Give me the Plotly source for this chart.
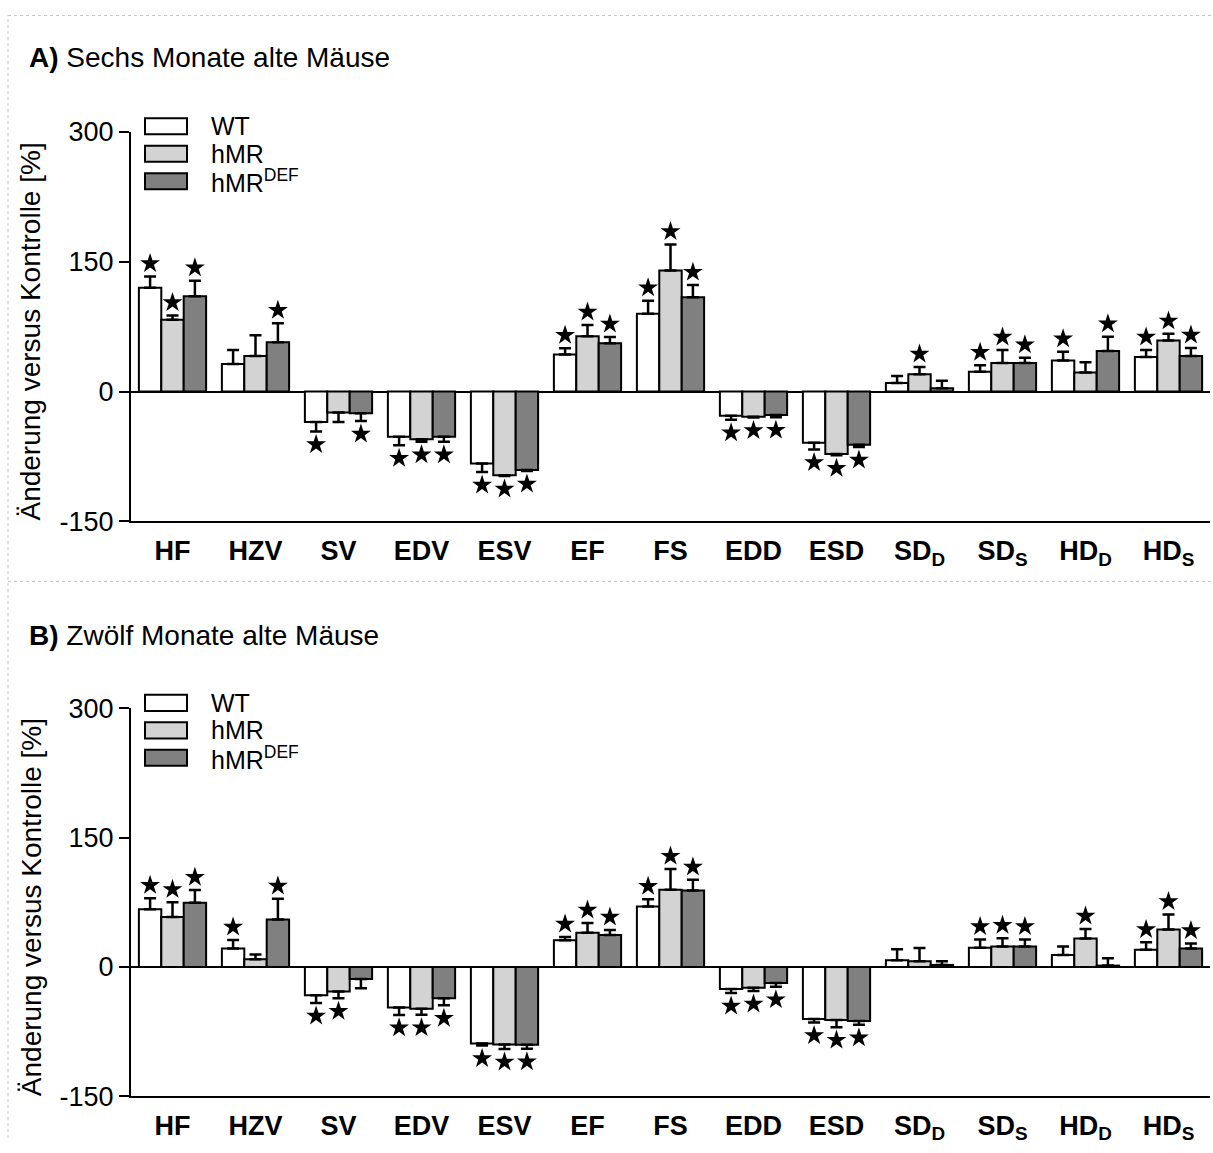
import plotly.graph_objects as go

# ---- data -------------------------------------------------------------
categories = ["HF", "HZV", "SV", "EDV", "ESV", "EF", "FS", "EDD", "ESD",
              "SD_D", "SD_S", "HD_D", "HD_S"]
tick_labels = ["HF", "HZV", "SV", "EDV", "ESV", "EF", "FS", "EDD", "ESD",
               "SD<sub>D</sub>", "SD<sub>S</sub>", "HD<sub>D</sub>", "HD<sub>S</sub>"]
series_names = ["WT", "hMR", "hMR<sup>DEF</sup>"]
y_ticks = [-150, 0, 150, 300]
y_tick_text = ["-150", "0", "150", "300"]

# A) six-month-old mice: change vs. control [%], SEM, significance
a_wt = [120, 32, -35, -52, -83, 43, 90, -28, -59, 10, 23, 36, 40]
a_wt_err = [13, 16, 11, 10, 10, 7, 15, 4.5, 8, 8, 7.5, 10, 8]
a_wt_sig = [1, 0, 1, 1, 1, 1, 1, 1, 1, 0, 1, 1, 1]
a_hmr = [83, 41, -24, -55, -96.5, 64, 140, -29, -72, 20, 33, 22, 59]
a_hmr_err = [5, 24, 11, 3, 1, 13, 30, 1, 1.5, 8.5, 15, 12, 7.7]
a_hmr_sig = [1, 0, 0, 1, 1, 1, 1, 1, 1, 1, 1, 0, 1]
a_def = [110, 57, -25, -52, -90.5, 56, 109, -27, -61.5, 4, 33, 47, 41]
a_def_err = [18, 22, 9, 5.8, 1.2, 7, 14, 2.5, 2.5, 8.5, 6, 16.5, 9.3]
a_def_sig = [1, 1, 1, 1, 1, 1, 1, 1, 1, 0, 1, 1, 1]

# B) twelve-month-old mice
b_wt = [67, 21.5, -33, -47, -89, 31, 70, -25.7, -60.4, 7.7, 22.3, 13.8, 20]
b_wt_err = [12.7, 9.7, 9, 8.7, 2.3, 3.8, 8.5, 4.6, 4.2, 12.7, 9.6, 10, 8.5]
b_wt_sig = [1, 1, 1, 1, 1, 1, 1, 1, 1, 0, 1, 0, 1]
b_hmr = [58, 9, -28.5, -48.5, -90, 39.6, 89.6, -24.2, -61.5, 6.5, 23.8, 33, 43.5]
b_hmr_err = [17, 5.4, 8, 7, 5.4, 11.5, 24, 3.8, 8.5, 15.4, 9.6, 11, 17.3]
b_hmr_sig = [1, 0, 1, 1, 1, 1, 1, 1, 1, 0, 1, 1, 1]
b_def = [74.6, 55, -14, -36.5, -90.4, 37, 88.8, -18.8, -62.7, 2.3, 23.8, 1.5, 21.5]
b_def_err = [14.6, 24, 10.8, 8, 4.6, 5.8, 12.3, 4.2, 4.6, 4.2, 8, 8.5, 5.8]
b_def_sig = [1, 1, 0, 1, 1, 1, 1, 1, 1, 0, 1, 0, 1]

panel_titles = ["<b>A)</b> Sechs Monate alte Mäuse", "<b>B)</b> Zwölf Monate alte Mäuse"]
y_title = "Änderung versus Kontrolle [%]"

# ---- style ------------------------------------------------------------
W, H = 1213, 1153
FONT = "Liberation Sans, Arial, Helvetica, sans-serif"
fills = ["#ffffff", "#d3d3d3", "#808080"]
BAR_W = 0.27
STAR_GAP = 15
FRAME = dict(color="#c4c4c4", width=1, dash="dot")


def px(x):
    return x / W


def py(y):
    return 1 - y / H


fig = go.Figure()

panels = [
    dict(series=[(a_wt, a_wt_err, a_wt_sig), (a_hmr, a_hmr_err, a_hmr_sig),
                 (a_def, a_def_err, a_def_sig)],
         top=120, bottom=520, title_y=44, frame_top=0.5),
    dict(series=[(b_wt, b_wt_err, b_wt_sig), (b_hmr, b_hmr_err, b_hmr_sig),
                 (b_def, b_def_err, b_def_sig)],
         top=712, bottom=1110, title_y=637, frame_top=581.5),
]

shapes = [dict(type="line", xref="paper", yref="paper", x0=px(8), x1=px(8),
               y0=0, y1=1, line=FRAME, layer="below")]
annotations = []
x_idx = list(range(len(categories)))

for p, panel in enumerate(panels):
    xa = "x" if p == 0 else "x2"
    ya = "y" if p == 0 else "y2"
    for j, (vals, errs, sig) in enumerate(panel["series"]):
        xs = [i + (j - 1) * BAR_W for i in x_idx]
        up = [e if v >= 0 else 0 for v, e in zip(vals, errs)]
        down = [e if v < 0 else 0 for v, e in zip(vals, errs)]
        fig.add_trace(go.Bar(
            x=xs, y=vals, width=BAR_W, name=series_names[j],
            marker=dict(color=fills[j], line=dict(color="black", width=2)),
            error_y=dict(type="data", symmetric=False, array=up, arrayminus=down,
                         color="black", thickness=2.5, width=6),
            xaxis=xa, yaxis=ya, showlegend=False,
        ))
        sx, sy = [], []
        for x, v, e, s in zip(xs, vals, errs, sig):
            if s:
                sx.append(x)
                sy.append(v + e + STAR_GAP if v >= 0 else v - e - STAR_GAP)
        fig.add_trace(go.Scatter(
            x=sx, y=sy, mode="markers",
            marker=dict(symbol="star", size=15, color="black", line=dict(width=0)),
            xaxis=xa, yaxis=ya, showlegend=False, hoverinfo="skip",
        ))

    top, bottom = panel["top"], panel["bottom"]
    # dotted frame line above the panel
    shapes.append(dict(type="line", xref="paper", yref="paper",
                       x0=px(8), x1=1, y0=py(panel["frame_top"]), y1=py(panel["frame_top"]),
                       line=FRAME, layer="below"))
    # legend
    for j, name in enumerate(series_names):
        ytop = top - 14 + j * 28.2
        shapes.append(dict(type="rect", xref="paper", yref="paper",
                           x0=px(145), x1=px(187), y0=py(ytop + 16.5), y1=py(ytop),
                           fillcolor=fills[j], line=dict(color="black", width=2)))
        annotations.append(dict(x=px(209), y=py(ytop + 8), xref="paper", yref="paper",
                                text=name, showarrow=False, xanchor="left",
                                yanchor="middle",
                                font=dict(family=FONT, size=25, color="black")))
    # panel heading
    annotations.append(dict(x=px(27), y=py(panel["title_y"]), xref="paper", yref="paper",
                            text=panel_titles[p], showarrow=False, xanchor="left",
                            yanchor="middle",
                            font=dict(family=FONT, size=28, color="black")))
    # y axis title
    annotations.append(dict(x=px(31), y=py((top + bottom) / 2 + 5), xref="paper",
                            yref="paper", text=y_title, showarrow=False,
                            textangle=-90, xanchor="center", yanchor="middle",
                            font=dict(family=FONT, size=28, color="black")))

    xaxis_cfg = dict(
        domain=[px(131), px(1210)], range=[-0.5, 12.5], anchor=ya,
        tickvals=x_idx, ticktext=tick_labels, showline=True, linecolor="black",
        linewidth=2, ticks="", showgrid=False, zeroline=False,
        tickfont=dict(family=FONT, size=27, color="black", weight="bold"),
        ticklabelstandoff=4, fixedrange=True,
    )
    yaxis_cfg = dict(
        domain=[py(bottom), py(top)], range=[-150, 300], anchor=xa,
        tickvals=y_ticks, ticktext=y_tick_text, showline=True, linecolor="black",
        linewidth=2, ticks="outside", ticklen=10, tickwidth=2, tickcolor="black",
        showgrid=False, zeroline=True, zerolinecolor="black", zerolinewidth=2,
        tickfont=dict(family=FONT, size=27, color="black"), fixedrange=True,
    )
    if p == 0:
        fig.update_layout(xaxis=xaxis_cfg, yaxis=yaxis_cfg)
    else:
        fig.update_layout(xaxis2=xaxis_cfg, yaxis2=yaxis_cfg)

fig.update_layout(
    width=W, height=H, margin=dict(l=0, r=0, t=0, b=0),
    paper_bgcolor="white", plot_bgcolor="white",
    barmode="overlay", shapes=shapes, annotations=annotations,
    font=dict(family=FONT, color="black"), showlegend=False,
)

fig.write_html("out.html")
